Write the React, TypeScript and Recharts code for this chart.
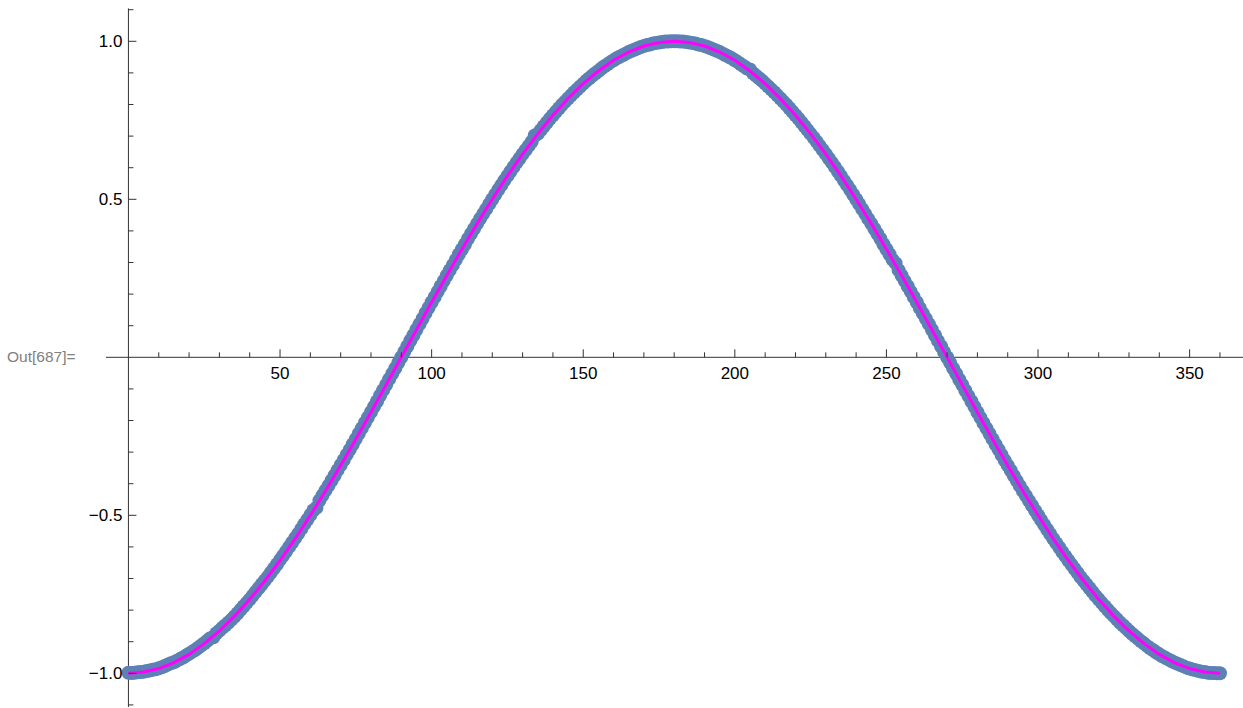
import { ComposedChart, Scatter, XAxis, YAxis, ReferenceLine } from 'recharts';

const WIDTH = 1243;
const HEIGHT = 708;
const MARGIN = { top: 0, right: 0, bottom: 0, left: 105 };
const X_MIN = -7.4;
const X_MAX = 367.6;
const Y_MIN = -1.1066;
const Y_MAX = 1.1307;

// axes are 1px wide (width 0 stops recharts from drawing the ticks)
const PLOT_W = WIDTH - MARGIN.left - MARGIN.right - 1;
const PLOT_H = HEIGHT - MARGIN.top - MARGIN.bottom - 1;
const X0 = MARGIN.left + 1 + (PLOT_W * (0 - X_MIN)) / (X_MAX - X_MIN);
const Y0 = MARGIN.top + (PLOT_H * Y_MAX) / (Y_MAX - Y_MIN);

const AXIS_COLOR = '#333';
const FONT = '"Liberation Sans", Arial, sans-serif';

// measured samples, one per degree from 0 to 360
const samples = [
  -0.998, -0.999, -0.998, -0.997, -0.996, -0.995, -0.993, -0.991, -0.989, -0.987,
  -0.984, -0.981, -0.977, -0.972, -0.968, -0.965, -0.96, -0.955, -0.95, -0.944,
  -0.938, -0.932, -0.926, -0.919, -0.912, -0.905, -0.897, -0.889, -0.886, -0.873,
  -0.865, -0.856, -0.848, -0.839, -0.83, -0.82, -0.81, -0.799, -0.788, -0.777,
  -0.766, -0.754, -0.742, -0.73, -0.718, -0.706, -0.694, -0.681, -0.668, -0.655,
  -0.641, -0.628, -0.614, -0.6, -0.586, -0.572, -0.558, -0.543, -0.528, -0.514,
  -0.499, -0.484, -0.476, -0.453, -0.437, -0.421, -0.406, -0.39, -0.374, -0.357,
  -0.341, -0.325, -0.308, -0.292, -0.275, -0.258, -0.241, -0.224, -0.207, -0.19,
  -0.173, -0.156, -0.139, -0.121, -0.104, -0.087, -0.069, -0.052, -0.035, -0.017,
  0.0, 0.018, 0.035, 0.053, 0.07, 0.088, 0.105, 0.122, 0.14, 0.157,
  0.174, 0.191, 0.208, 0.225, 0.242, 0.259, 0.276, 0.292, 0.309, 0.326,
  0.342, 0.358, 0.375, 0.391, 0.407, 0.423, 0.439, 0.454, 0.469, 0.485,
  0.5, 0.515, 0.53, 0.545, 0.56, 0.574, 0.588, 0.602, 0.616, 0.629,
  0.643, 0.656, 0.669, 0.682, 0.702, 0.707, 0.719, 0.731, 0.743, 0.755,
  0.766, 0.777, 0.788, 0.799, 0.809, 0.819, 0.829, 0.839, 0.848, 0.857,
  0.866, 0.875, 0.883, 0.891, 0.899, 0.906, 0.914, 0.921, 0.927, 0.934,
  0.94, 0.946, 0.951, 0.956, 0.961, 0.966, 0.97, 0.974, 0.978, 0.982,
  0.985, 0.988, 0.99, 0.993, 0.995, 0.996, 0.998, 0.999, 0.999, 1.0,
  1.0, 1.0, 0.999, 0.999, 0.998, 0.996, 0.995, 0.993, 0.99, 0.988,
  0.985, 0.982, 0.978, 0.974, 0.97, 0.966, 0.961, 0.956, 0.951, 0.946,
  0.94, 0.934, 0.927, 0.921, 0.914, 0.911, 0.899, 0.891, 0.883, 0.875,
  0.866, 0.857, 0.848, 0.839, 0.829, 0.819, 0.809, 0.799, 0.788, 0.777,
  0.766, 0.755, 0.743, 0.731, 0.719, 0.707, 0.695, 0.682, 0.669, 0.656,
  0.643, 0.629, 0.616, 0.602, 0.588, 0.574, 0.559, 0.545, 0.53, 0.515,
  0.5, 0.485, 0.469, 0.454, 0.438, 0.423, 0.407, 0.391, 0.375, 0.358,
  0.342, 0.326, 0.309, 0.298, 0.276, 0.259, 0.242, 0.225, 0.208, 0.191,
  0.174, 0.156, 0.139, 0.122, 0.105, 0.087, 0.07, 0.052, 0.035, 0.017,
  0.0, -0.017, -0.035, -0.052, -0.07, -0.087, -0.105, -0.122, -0.139, -0.156,
  -0.174, -0.191, -0.208, -0.225, -0.242, -0.259, -0.276, -0.292, -0.309, -0.326,
  -0.342, -0.358, -0.375, -0.391, -0.407, -0.423, -0.438, -0.454, -0.469, -0.485,
  -0.5, -0.515, -0.53, -0.545, -0.559, -0.574, -0.588, -0.602, -0.616, -0.629,
  -0.643, -0.656, -0.669, -0.682, -0.695, -0.707, -0.719, -0.731, -0.743, -0.755,
  -0.766, -0.777, -0.788, -0.799, -0.809, -0.819, -0.829, -0.839, -0.848, -0.857,
  -0.866, -0.875, -0.883, -0.891, -0.899, -0.906, -0.914, -0.921, -0.927, -0.934,
  -0.94, -0.946, -0.951, -0.956, -0.961, -0.966, -0.97, -0.974, -0.978, -0.982,
  -0.985, -0.988, -0.99, -0.993, -0.995, -0.996, -0.998, -0.999, -0.999, -1.0,
  -1.0,
];
const sampleAngles = samples.map((_, i) => i);

// fitted curve, every 5 degrees
const fitValues = [
  -1.0, -0.996, -0.985, -0.966, -0.94, -0.906, -0.866, -0.819, -0.766, -0.707,
  -0.643, -0.574, -0.5, -0.423, -0.342, -0.259, -0.174, -0.087, 0.0,
  0.087, 0.174, 0.259, 0.342, 0.423, 0.5, 0.574, 0.643, 0.707, 0.766,
  0.819, 0.866, 0.906, 0.94, 0.966, 0.985, 0.996, 1.0,
  0.996, 0.985, 0.966, 0.94, 0.906, 0.866, 0.819, 0.766, 0.707,
  0.643, 0.574, 0.5, 0.423, 0.342, 0.259, 0.174, 0.087, 0.0,
  -0.087, -0.174, -0.259, -0.342, -0.423, -0.5, -0.574, -0.643, -0.707, -0.766,
  -0.819, -0.866, -0.906, -0.94, -0.966, -0.985, -0.996, -1.0,
];
const fitAngles = fitValues.map((_, i) => i * 5);

const xTicks = [
  10, 20, 30, 40, 50, 60, 70, 80, 90, 100, 110, 120, 130, 140, 150, 160, 170, 180,
  190, 200, 210, 220, 230, 240, 250, 260, 270, 280, 290, 300, 310, 320, 330, 340, 350, 360,
];
const yTicks = [
  -1.1, -1.0, -0.9, -0.8, -0.7, -0.6, -0.5, -0.4, -0.3, -0.2, -0.1,
  0.1, 0.2, 0.3, 0.4, 0.5, 0.6, 0.7, 0.8, 0.9, 1.0, 1.1,
];

const pointData = sampleAngles.map((x, i) => ({ x, y: samples[i] }));
const fitData = fitAngles.map((x, i) => ({ x, y: fitValues[i] }));

const XTick = (props: any) => {
  const { x, payload } = props;
  const v = payload.value;
  const major = v % 50 === 0;
  return (
    <g>
      <line x1={x} x2={x} y1={Y0} y2={Y0 - (major ? 8 : 5)} stroke={AXIS_COLOR} strokeWidth={1} />
      {major && (
        <text x={x} y={Y0 + 22} textAnchor="middle" fontSize={17} fontFamily={FONT} fill="#000">
          {v}
        </text>
      )}
    </g>
  );
};

const YTick = (props: any) => {
  const { y, payload } = props;
  const v = payload.value;
  const major = Math.abs(v * 2 - Math.round(v * 2)) < 1e-6;
  return (
    <g>
      <line x1={X0} x2={X0 + (major ? 8 : 5)} y1={y} y2={y} stroke={AXIS_COLOR} strokeWidth={1} />
      {major && (
        <text x={X0 - 6} y={y} dy={6} textAnchor="end" fontSize={17} fontFamily={FONT} fill="#000">
          {v.toFixed(1).replace('-', '\u2212')}
        </text>
      )}
    </g>
  );
};

const Dot = (props: any) => <circle cx={props.cx} cy={props.cy} r={7} fill="#5E81B5" />;
const NoDot = () => <g />;

export default function App() {
  return (
    <div style={{ position: 'absolute', left: 0, top: 0, width: WIDTH, height: HEIGHT, background: '#fff' }}>
      <div
        style={{
          position: 'absolute',
          left: 7,
          top: Y0 - 10,
          fontFamily: FONT,
          fontSize: 15.5,
          color: '#808080',
          lineHeight: '20px',
        }}
      >
        Out[687]=
      </div>
      <ComposedChart width={WIDTH} height={HEIGHT} margin={MARGIN}>
        <XAxis
          type="number"
          dataKey="x"
          domain={[X_MIN, X_MAX]}
          allowDataOverflow
          ticks={xTicks}
          interval={0}
          height={1}
          axisLine={false}
          tickLine={false}
          tick={XTick}
        />
        <YAxis
          type="number"
          dataKey="y"
          domain={[Y_MIN, Y_MAX]}
          allowDataOverflow
          ticks={yTicks}
          interval={0}
          width={1}
          axisLine={false}
          tickLine={false}
          tick={YTick}
        />
        <ReferenceLine y={0} stroke={AXIS_COLOR} strokeWidth={1} />
        <ReferenceLine
          segment={[
            { x: 0, y: 1.104 },
            { x: 0, y: Y_MIN },
          ]}
          stroke={AXIS_COLOR}
          strokeWidth={1}
        />
        <Scatter data={pointData} dataKey="y" shape={Dot} isAnimationActive={false} />
        <Scatter
          data={fitData}
          dataKey="y"
          shape={NoDot}
          line={{ stroke: '#FF00FF', strokeWidth: 3 }}
          lineType="joint"
          isAnimationActive={false}
        />
      </ComposedChart>
    </div>
  );
}
